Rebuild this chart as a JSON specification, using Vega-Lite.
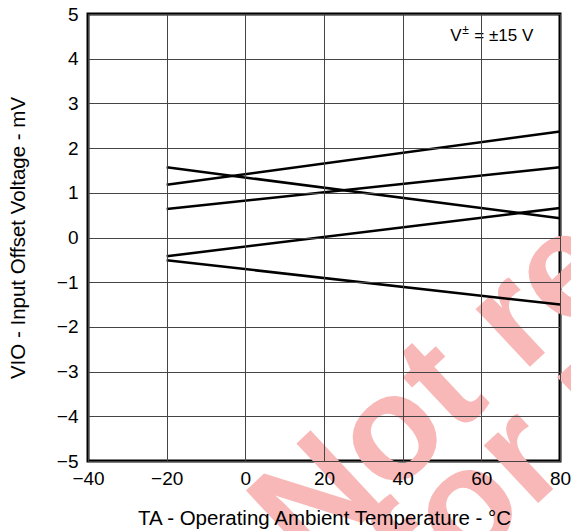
{
  "$schema": "https://vega.github.io/schema/vega-lite/v6.json",
  "width": 472,
  "height": 447,
  "autosize": "none",
  "padding": {"left": 88, "top": 14, "right": 11, "bottom": 70},
  "background": "white",
  "config": {
    "font": "Liberation Sans",
    "view": {"stroke": "black", "strokeWidth": 3},
    "axis": {
      "domain": false,
      "ticks": false,
      "grid": true,
      "labelFlush": false,
      "labelOverlap": false,
      "gridColor": "#444444",
      "gridWidth": 1,
      "labelFont": "Liberation Sans",
      "labelFontSize": 19,
      "labelColor": "black",
      "titleFont": "Liberation Sans",
      "titleFontSize": 20.5,
      "titleFontWeight": "normal",
      "titleColor": "black"
    }
  },
  "data": {
    "values": [
      {"series": "A", "t": -20, "v": 1.18},
      {"series": "A", "t": 80, "v": 2.37},
      {"series": "B", "t": -20, "v": 0.64},
      {"series": "B", "t": 80, "v": 1.57},
      {"series": "C", "t": -20, "v": 1.57},
      {"series": "C", "t": 80, "v": 0.43},
      {"series": "D", "t": -20, "v": -0.42},
      {"series": "D", "t": 80, "v": 0.66},
      {"series": "E", "t": -20, "v": -0.51},
      {"series": "E", "t": 80, "v": -1.5}
    ]
  },
  "layer": [
    {
      "data": {"values": [
        {"label": "Not recommended", "t": 16.2, "v": -7.5},
        {"label": "for new designs", "t": 46.2, "v": -8.26}
      ]},
      "mark": {"type": "text", "align": "left", "baseline": "alphabetic", "angle": -43, "fontSize": 150, "fontWeight": "bold", "font": "Liberation Sans", "color": "#f9b8b8"},
      "encoding": {
        "x": {"field": "t", "type": "quantitative"},
        "y": {"field": "v", "type": "quantitative"},
        "text": {"field": "label"}
      }
    },
    {
      "mark": {"type": "line", "color": "black", "strokeWidth": 2.5},
      "encoding": {
        "x": {
          "field": "t", "type": "quantitative",
          "scale": {"domain": [-40, 80], "nice": false, "zero": false},
          "axis": {"values": [-40, -20, 0, 20, 40, 60, 80], "labelPadding": 8, "titlePadding": 20, "zindex": 1,
                   "title": "TA - Operating Ambient Temperature - °C"}
        },
        "y": {
          "field": "v", "type": "quantitative",
          "scale": {"domain": [-5, 5], "nice": false},
          "axis": {"values": [-5, -4, -3, -2, -1, 0, 1, 2, 3, 4, 5], "labelPadding": 10, "titlePadding": 28, "zindex": 1,
                   "title": "VIO - Input Offset Voltage - mV"}
        },
        "detail": {"field": "series"}
      }
    },
    {
      "data": {"values": [{"t": 60, "v": 4.5}]},
      "mark": {"type": "text", "text": "V", "align": "left", "baseline": "middle", "dx": -31, "fontSize": 17, "color": "black"},
      "encoding": {"x": {"field": "t", "type": "quantitative"}, "y": {"field": "v", "type": "quantitative"}}
    },
    {
      "data": {"values": [{"t": 60, "v": 4.5}]},
      "mark": {"type": "text", "text": "±", "align": "left", "baseline": "middle", "dx": -19, "dy": -6, "fontSize": 12, "color": "black"},
      "encoding": {"x": {"field": "t", "type": "quantitative"}, "y": {"field": "v", "type": "quantitative"}}
    },
    {
      "data": {"values": [{"t": 60, "v": 4.5}]},
      "mark": {"type": "text", "text": "= ±15 V", "align": "left", "baseline": "middle", "dx": -7, "fontSize": 17, "color": "black"},
      "encoding": {"x": {"field": "t", "type": "quantitative"}, "y": {"field": "v", "type": "quantitative"}}
    }
  ]
}
